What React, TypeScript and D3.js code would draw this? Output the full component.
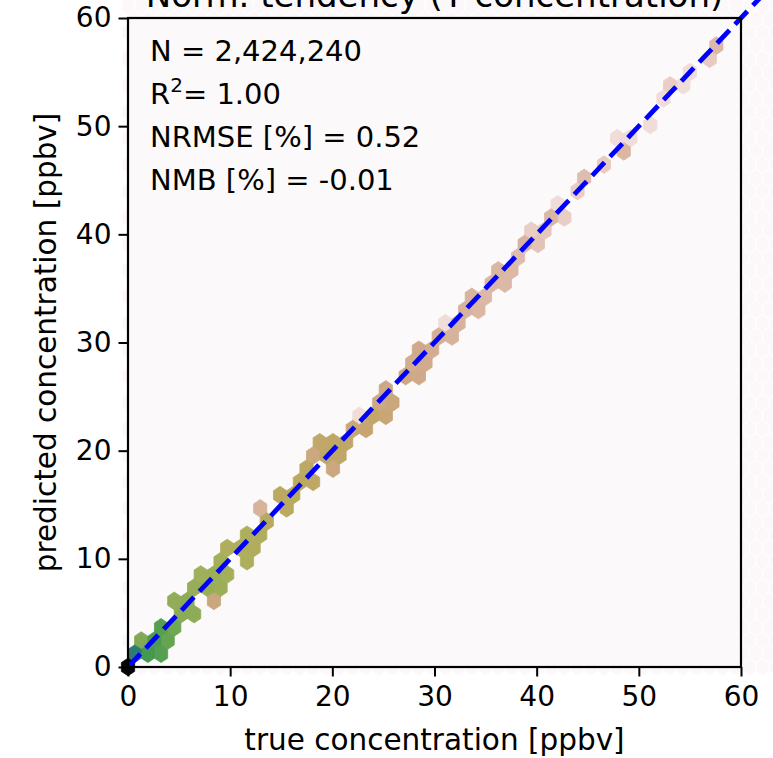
import React, { useEffect, useRef } from 'react';
import * as d3 from 'd3';

const axisTicks = [0, 10, 20, 30, 40, 50, 60];

// hexbin cells: true value, predicted value, samples in cell
const binTrue = [
  0, 1.1, 2.1, 3.2, 4.3, 5.3, 6.4, 7.5, 8.5, 9.6, 10.6, 11.7, 12.8, 13.8, 14.9,
  16.0, 17.0, 18.1, 19.2, 20.2, 21.3, 22.4, 23.4, 24.5, 25.5, 26.6, 27.7, 28.7,
  29.8, 30.9, 31.9, 33.0, 34.1, 35.1, 36.2, 37.3, 38.3, 39.4, 40.4, 41.5, 42.6,
  43.6, 44.7, 46.8, 47.9, 49.0, 52.2, 53.2, 54.3, 56.4, 57.5,
  1.8, 1.2, 3.1, 4.5, 4.3, 6.7, 7.8, 9.4, 13.2, 13.2, 18.7, 19.6, 17.6, 22.0,
  25.0, 30.5, 43.2, 48.1, 48.5, 51.0, 54.8,
  2.6, 3.8, 5.0, 6.2, 5.0, 6.2, 8.6, 7.4, 9.8, 8.6, 11.0, 9.8, 12.0, 11.0,
  14.0, 15.4, 14.4, 16.8, 17.8, 19.0, 20.6, 21.8, 23.0, 22.4, 24.8, 25.8,
  27.4, 28.2, 29.2, 30.2, 31.6, 32.8, 34.0, 35.4, 33.4, 37.0, 38.8, 40.0, 39.6,
];
const binPred = [
  0, 1.1, 2.1, 3.2, 4.3, 5.3, 6.4, 7.5, 8.5, 9.6, 10.6, 11.7, 12.8, 13.8, 14.9,
  16.0, 17.0, 18.1, 19.2, 20.2, 21.3, 22.4, 23.4, 24.5, 25.5, 26.6, 27.7, 28.7,
  29.8, 30.9, 31.9, 33.0, 34.1, 35.1, 36.2, 37.3, 38.3, 39.4, 40.4, 41.5, 42.6,
  43.6, 44.7, 46.8, 47.9, 49.0, 52.2, 53.2, 54.3, 56.4, 57.5,
  0.9, 2.1, 4.3, 3.2, 5.6, 5.4, 6.5, 7.6, 12.1, 14.4, 17.5, 18.3, 19.2, 23.0,
  26.0, 31.5, 42.0, 49.2, 47.6, 49.9, 54.6,
  1.6, 2.7, 4.0, 5.3, 6.6, 7.6, 7.6, 8.8, 8.8, 10.0, 10.0, 11.0, 11.0, 12.4,
  13.2, 14.4, 15.6, 16.0, 17.2, 20.2, 19.4, 20.8, 21.8, 23.6, 23.6, 24.8,
  26.4, 27.4, 28.4, 29.4, 30.6, 32.2, 33.0, 34.4, 34.6, 36.0, 38.0, 39.0, 40.8,
];
const binCount = [
  1500000, 200000, 40000, 30000, 15000, 8000, 7000, 5000, 4000, 3000, 1500, 2000,
  1500, 1000, 900, 1200, 800, 700, 500, 600, 500, 200, 400, 100, 100, 90, 60, 80,
  60, 50, 40, 40, 35, 30, 30, 25, 4, 35, 12, 30, 3, 8, 20, 10, 30, 3, 3, 8, 3, 10,
  25,
  50000, 10000, 9000, 3, 25, 3, 150, 3, 3, 40, 3, 120, 120, 3, 3, 3, 8, 3, 3, 3, 3,
  30000, 20000, 9000, 7000, 6000, 5000, 4000, 3500, 3000, 2500, 2000, 1800,
  1500, 1200, 1000, 900, 800, 700, 600, 400, 500, 400, 250, 3, 200, 150,
  100, 80, 70, 50, 40, 30, 30, 25, 15, 25, 20, 15, 8,
];

const statLines = ['N = 2,424,240', 'R2= 1.00', 'NRMSE [%] = 0.52', 'NMB [%] = -0.01'];

// hexbin grid settings
const gridMax = 66;
const nx = 51;
const ny = 27;

// colormap (earth tones, reversed) against log10(count)
const cmapLog = [0.5, 1, 1.4, 1.9, 2.4, 2.9, 3.4, 3.9, 4.3, 4.7, 5.3, 6.2];
const cmapColors = [
  '#f0dcd8', '#e7cbc1', '#dcb9a6', '#cfa98a', '#c6a570', '#bba961',
  '#a9b05b', '#8bab56', '#66a451', '#44994f', '#2e7b73', '#050505',
];

const font = 'DejaVu Sans';

export default function App() {
  const ref = useRef<SVGSVGElement>(null);

  useEffect(() => {
    const svg = d3.select(ref.current);
    svg.selectAll('*').remove();

    const x = d3.scaleLinear().domain([0, 60]).range([128, 741]);
    const y = d3.scaleLinear().domain([0, 60]).range([667, 18]);
    const color = d3
      .scaleLinear<string>()
      .domain(cmapLog)
      .range(cmapColors)
      .interpolate(d3.interpolateRgb)
      .clamp(true);

    const sx = gridMax / nx;
    const sy = gridMax / ny;
    const offs = [[0.5, -0.5], [0.5, 0.5], [0, 1], [-0.5, 0.5], [-0.5, -0.5], [0, -1]];
    const hexPath = (cx: number, cy: number) =>
      'M' + offs.map(([a, b]) => `${x(cx + a * sx)},${y(cy + (b * sy) / 3)}`).join('L') + 'Z';

    // snap to hex centre like matplotlib's hexbin
    const snap = (tx: number, ty: number) => {
      const ix = tx / sx, iy = ty / sy;
      const ix1 = Math.round(ix), iy1 = Math.round(iy);
      const ix2 = Math.floor(ix), iy2 = Math.floor(iy);
      const d1 = (ix - ix1) ** 2 + 3 * (iy - iy1) ** 2;
      const d2 = (ix - ix2 - 0.5) ** 2 + 3 * (iy - iy2 - 0.5) ** 2;
      return d1 < d2 ? [ix1 * sx, iy1 * sy] : [(ix2 + 0.5) * sx, (iy2 + 0.5) * sy];
    };

    // empty cells of the grid
    const empty: number[][] = [];
    for (let i = 0; i <= nx; i++) for (let j = 0; j <= ny; j++) empty.push([i * sx, j * sy]);
    for (let i = 0; i < nx; i++) for (let j = 0; j < ny; j++) empty.push([(i + 0.5) * sx, (j + 0.5) * sy]);

    svg
      .append('g')
      .selectAll('path')
      .data(empty)
      .join('path')
      .attr('d', (d) => hexPath(d[0], d[1]))
      .attr('fill', '#fcf8f9')
      .attr('stroke', '#ffffff')
      .attr('stroke-width', 1);

    svg
      .append('rect')
      .attr('x', x(0))
      .attr('y', y(60))
      .attr('width', x(60) - x(0))
      .attr('height', y(0) - y(60))
      .attr('fill', '#fcf9fa');

    const cells = new Map<string, { cx: number; cy: number; n: number }>();
    binTrue.forEach((t, i) => {
      const [cx, cy] = snap(t, binPred[i]);
      const key = `${cx.toFixed(3)}_${cy.toFixed(3)}`;
      const prev = cells.get(key);
      if (!prev || prev.n < binCount[i]) cells.set(key, { cx, cy, n: binCount[i] });
    });
    const cellList = Array.from(cells.values()).sort((a, b) => a.n - b.n);

    svg
      .append('g')
      .selectAll('path')
      .data(cellList)
      .join('path')
      .attr('d', (d) => hexPath(d.cx, d.cy))
      .attr('fill', (d) => color(Math.log10(d.n)))
      .attr('stroke', (d) => color(Math.log10(d.n)))
      .attr('stroke-width', 0.8);

    // 1:1 line
    svg
      .append('line')
      .attr('x1', x(0))
      .attr('y1', y(0))
      .attr('x2', x(gridMax))
      .attr('y2', y(gridMax))
      .attr('stroke', '#0000ff')
      .attr('stroke-width', 4.8)
      .attr('stroke-dasharray', '18,8');

    // spines
    svg
      .append('rect')
      .attr('x', x(0))
      .attr('y', y(60))
      .attr('width', x(60) - x(0))
      .attr('height', y(0) - y(60))
      .attr('fill', 'none')
      .attr('stroke', '#000')
      .attr('stroke-width', 2.2);

    const xAxis = svg
      .append('g')
      .attr('transform', `translate(0,${y(0)})`)
      .call(d3.axisBottom(x).tickValues(axisTicks).tickSize(9.5).tickPadding(10).tickFormat((d) => String(d)));
    const yAxis = svg
      .append('g')
      .attr('transform', `translate(${x(0)},0)`)
      .call(d3.axisLeft(y).tickValues(axisTicks).tickSize(9.5).tickPadding(7).tickFormat((d) => String(d)));
    [xAxis, yAxis].forEach((g) => {
      g.select('.domain').remove();
      g.selectAll('.tick line').attr('stroke', '#000').attr('stroke-width', 2);
      g.selectAll('.tick text').attr('fill', '#000').style('font-family', font).style('font-size', '28px');
    });

    // axis labels
    svg
      .append('text')
      .attr('x', (x(0) + x(60)) / 2)
      .attr('y', 750)
      .attr('text-anchor', 'middle')
      .style('font-family', font)
      .style('font-size', '29.5px')
      .text('true concentration [ppbv]');

    svg
      .append('text')
      .attr('transform', `translate(56,${(y(0) + y(60)) / 2}) rotate(-90)`)
      .attr('text-anchor', 'middle')
      .style('font-family', font)
      .style('font-size', '29.5px')
      .text('predicted concentration [ppbv]');

    // title, cut by the top edge as in the source figure
    svg
      .append('text')
      .attr('x', (x(0) + x(60)) / 2)
      .attr('y', 7)
      .attr('text-anchor', 'middle')
      .style('font-family', font)
      .style('font-size', '34px')
      .text('Norm. tendency (Y concentration)');

    // statistics
    const stats = svg.append('g').style('font-family', font).style('font-size', '29px');
    statLines.forEach((s, i) => {
      const t = stats.append('text').attr('x', 150).attr('y', 61 + i * 43);
      if (s.startsWith('R2')) {
        t.append('tspan').text('R');
        t.append('tspan').attr('dy', -12).style('font-size', '20px').text('2');
        t.append('tspan').attr('dy', 12).text(s.slice(2));
      } else {
        t.text(s);
      }
    });
  }, []);

  return (
    <svg
      ref={ref}
      width={773}
      height={758}
      style={{ position: 'absolute', left: 0, top: 0, background: '#ffffff' }}
    />
  );
}
